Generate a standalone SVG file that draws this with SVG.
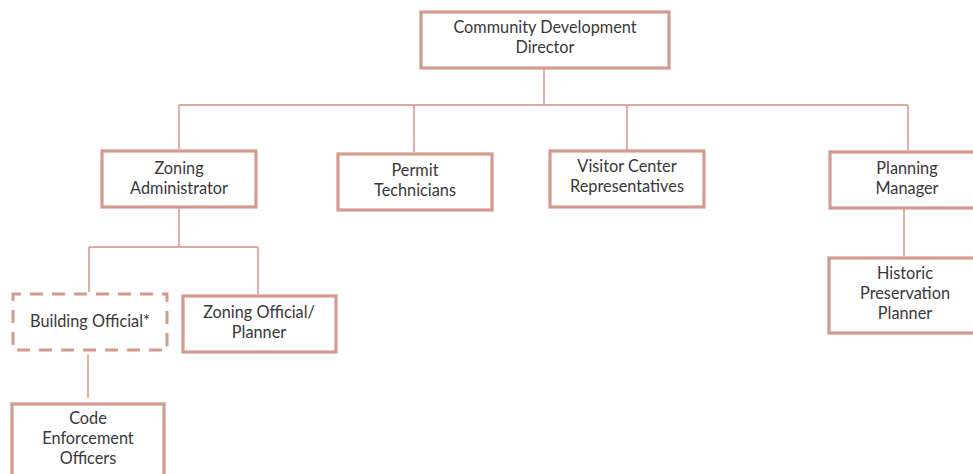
<svg xmlns="http://www.w3.org/2000/svg" width="973" height="474" viewBox="0 0 973 474">
<style>
.box{fill:#fff;stroke:#d49a8c;stroke-width:3.2}
.dash{fill:#fff;stroke:#d49a8c;stroke-width:3;stroke-dasharray:13 9;stroke-dashoffset:5}
.ln{fill:none;stroke:#d58e7e;stroke-width:1.4}
text{font-family:Lato,"Open Sans","Liberation Sans",sans-serif;font-size:16.3px;fill:#383838;text-anchor:middle}
</style>
<rect width="973" height="474" fill="#fff"/>
<g id="connectors">
<path class="ln" d="M544 68V105M179 105H908M179 105V149M414 105V152M627 105V150M908 105V150"/>
<path class="ln" d="M179 207V247M89 247H258M89 247V292M258 247V294"/>
<path class="ln" d="M88 355V398"/>
<path class="ln" d="M904 209V256"/>
</g>
<g id="director">
<rect class="box" x="421" y="12" width="248" height="56"/>
<text x="545" y="33">Community Development</text>
<text x="545" y="53">Director</text>
</g>
<g id="zoning-admin">
<rect class="box" x="102" y="151" width="154" height="56"/>
<text x="179" y="174">Zoning</text>
<text x="179" y="194">Administrator</text>
</g>
<g id="permit">
<rect class="box" x="338" y="154" width="154" height="56"/>
<text x="415" y="176">Permit</text>
<text x="415" y="196">Technicians</text>
</g>
<g id="visitor">
<rect class="box" x="550" y="151" width="154" height="56"/>
<text x="627" y="172">Visitor Center</text>
<text x="627" y="192">Representatives</text>
</g>
<g id="planning-manager">
<rect class="box" x="830" y="152" width="156" height="56"/>
<text x="907" y="174">Planning</text>
<text x="907" y="194">Manager</text>
</g>
<g id="historic">
<rect class="box" x="829" y="258" width="156" height="75"/>
<text x="905" y="279">Historic</text>
<text x="905" y="299">Preservation</text>
<text x="905" y="319">Planner</text>
</g>
<g id="building-official">
<rect class="dash" x="13" y="294" width="154" height="56"/>
<text x="90" y="327">Building Official*</text>
</g>
<g id="zoning-official">
<rect class="box" x="183" y="296" width="153" height="56"/>
<text x="259" y="318">Zoning Official/</text>
<text x="259" y="338">Planner</text>
</g>
<g id="code-enforcement">
<rect class="box" x="12" y="404" width="152" height="80"/>
<text x="88" y="424">Code</text>
<text x="88" y="444">Enforcement</text>
<text x="88" y="464">Officers</text>
</g>
</svg>
